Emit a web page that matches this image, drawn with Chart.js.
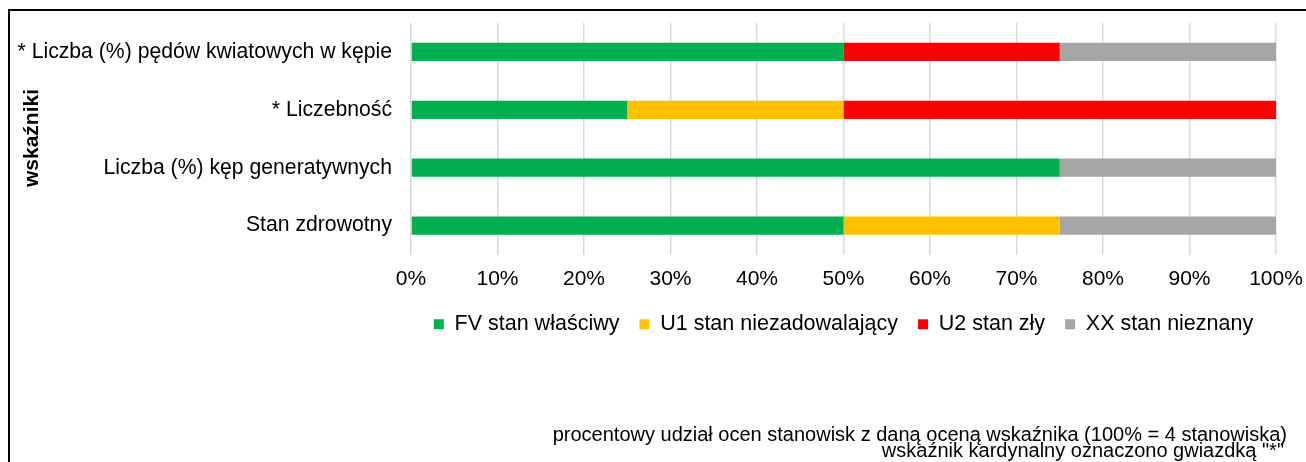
<!DOCTYPE html>
<html>
<head>
<meta charset="utf-8">
<script src="https://cdn.jsdelivr.net/npm/chart.js@4.4.1/dist/chart.umd.min.js"></script>
<style>
  html, body { margin: 0; padding: 0; background: #fff; }
  #wrap { position: relative; width: 1306px; height: 462px; overflow: hidden; }
  #frame { position: absolute; left: 8px; top: 9px; width: 1400px; height: 500px;
           border-top: 2px solid #000; border-left: 2px solid #000; }
  canvas { position: absolute; left: 0; top: 0; }
</style>
</head>
<body>
<div id="wrap">
  <div id="frame"></div>
  <canvas id="chart" width="1306" height="462"></canvas>
</div>
<script>
const categories = [
  '* Liczba (%) pędów kwiatowych w kępie',
  '* Liczebność',
  'Liczba (%) kęp generatywnych',
  'Stan zdrowotny'
];
const seriesNames = ['FV stan właściwy', 'U1 stan niezadowalający', 'U2 stan zły', 'XX stan nieznany'];
const fvValues = [50, 25, 75, 50];
const u1Values = [0, 25, 0, 25];
const u2Values = [25, 50, 0, 0];
const xxValues = [25, 0, 25, 25];
const seriesColors = ['#00B050', '#FFC000', '#FF0000', '#A5A5A5'];
const axisTitle = 'wskaźniki';
const footnotes = [
  'procentowy udział ocen stanowisk z daną oceną wskaźnika (100% = 4 stanowiska)',
  'wskaźnik kardynalny oznaczono gwiazdką "*"'
];

const FONT = "'Liberation Sans', Arial, sans-serif";
Chart.defaults.font.family = FONT;
Chart.defaults.font.size = 21;
Chart.defaults.color = '#000';

// y-axis title and footnotes sit where Chart.js would not put them, so draw them by hand
const extraText = {
  id: 'extraText',
  afterDraw(chart) {
    const ctx = chart.ctx;
    ctx.save();
    ctx.fillStyle = '#000';
    ctx.font = 'bold 21px ' + FONT;
    ctx.textAlign = 'center';
    ctx.textBaseline = 'middle';
    ctx.translate(32, 138);
    ctx.rotate(-Math.PI / 2);
    ctx.fillText(axisTitle, 0, 0);
    ctx.restore();

    ctx.save();
    ctx.fillStyle = '#000';
    ctx.font = '20px ' + FONT;
    ctx.textAlign = 'right';
    ctx.textBaseline = 'middle';
    ctx.fillText(footnotes[0], 1287, 435);
    ctx.fillText(footnotes[1], 1284, 451);
    ctx.restore();
  }
};

const allValues = [fvValues, u1Values, u2Values, xxValues];

new Chart(document.getElementById('chart').getContext('2d'), {
  type: 'bar',
  data: {
    labels: categories,
    datasets: seriesNames.map((name, i) => ({
      label: name,
      data: allValues[i],
      backgroundColor: seriesColors[i],
      borderWidth: 0,
      barPercentage: 0.315,
      categoryPercentage: 1
    }))
  },
  options: {
    indexAxis: 'y',
    responsive: false,
    animation: false,
    layout: { padding: { left: 0, right: 30, top: 23, bottom: 117 } },
    scales: {
      x: {
        stacked: true,
        min: 0,
        max: 100,
        ticks: { stepSize: 10, padding: 12, callback: v => v + '%' },
        grid: { color: '#d9d9d9', lineWidth: 1.5, drawTicks: false },
        border: { display: false },
        afterFit: scale => {
          scale.paddingLeft = 0;
          scale.paddingRight = 0;
          scale.height = 39;
        }
      },
      y: {
        stacked: true,
        ticks: { padding: 19, font: { size: 21.2 } },
        grid: { display: false, drawTicks: false },
        border: { display: false },
        afterFit: scale => {
          scale.width = 411;
          scale.paddingTop = 0;
          scale.paddingBottom = 0;
        }
      }
    },
    plugins: {
      legend: {
        position: 'bottom',
        fullSize: false,
        labels: { boxWidth: 10, boxHeight: 10, padding: 20, font: { size: 21.5 } }
      },
      tooltip: { enabled: false }
    }
  },
  plugins: [extraText]
});
</script>
</body>
</html>
